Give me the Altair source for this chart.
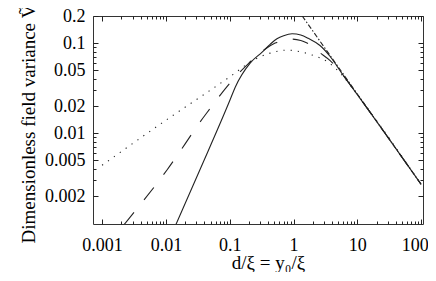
import altair as alt
import pandas as pd

# ---- data ----
solid_x = [0.0142, 0.034, 0.101, 0.122, 0.209, 0.322, 0.43, 0.55, 0.7, 0.95, 1.3, 1.7, 2.6, 3.75, 6, 10, 100]
solid_y = [0.00095, 0.0039, 0.0233, 0.0324, 0.060, 0.0794, 0.097, 0.112, 0.121, 0.127, 0.123, 0.113, 0.094, 0.071, 0.044, 0.0268, 0.0027]

dashed_x = [0.0022, 0.0104, 0.041, 0.122, 0.2, 0.27, 0.515, 0.88, 1.3, 1.63, 2.6, 3.75, 5, 6, 10, 100]
dashed_y = [0.00096, 0.0039, 0.0158, 0.042, 0.060, 0.073, 0.100, 0.111, 0.107, 0.100, 0.078, 0.064, 0.052, 0.044, 0.0268, 0.0027]

dotted_x = [0.001, 0.013, 0.038, 0.109, 0.209, 0.43, 0.79, 1.14, 1.96, 3.48, 5.78, 10, 100]
dotted_y = [0.0044, 0.0158, 0.0264, 0.044, 0.0615, 0.0774, 0.0836, 0.0815, 0.0736, 0.0615, 0.044, 0.0268, 0.0027]

asym_x = [1.37, 100]
asym_y = [0.2, 0.0027]

x_major = [0.001, 0.01, 0.1, 1, 10, 100]
x_minor = [m * d for d in [0.001, 0.01, 0.1, 1, 10] for m in range(2, 10)]
y_labeled = [0.002, 0.005, 0.01, 0.02, 0.05, 0.1, 0.2]
y_minor = [0.003, 0.004, 0.006, 0.007, 0.008, 0.009, 0.03, 0.04, 0.06, 0.07, 0.08, 0.09]

W, H = 330, 208
FONT = "Liberation Serif"
INK = "#222"

xs = alt.Scale(type="log", domain=[0.00072, 107], nice=False)
ys = alt.Scale(type="log", domain=[0.00098, 0.2], nice=False)

def df(xv, yv):
    return pd.DataFrame({"x": xv, "y": yv})

def line(d, dash=None, axes=False):
    kw = dict(clip=True, color=INK, strokeWidth=1.1, interpolate="monotone")
    if dash:
        kw["strokeDash"] = dash
    if axes:
        xa = alt.Axis(orient="bottom", values=x_major, format="~g", ticks=False, tickSize=0,
                      domain=False, labelPadding=26, labelBaseline="alphabetic",
                      labelFont=FONT, labelFontSize=18, labelColor="black",
                      labelFlush=4, labelFlushOffset=7, labelOverlap=False,
                      title="d/ξ = y₀/ξ", titleFont=FONT, titleFontSize=19, titleFontWeight="normal",
                      titleColor="black", titleX=175, titleY=44, titleAlign="center",
                      titleBaseline="alphabetic", grid=False)
        ya = alt.Axis(orient="left", values=y_labeled, format="~g", ticks=False, tickSize=0,
                      domain=False, labelPadding=8,
                      labelFont=FONT, labelFontSize=18, labelColor="black",
                      labelFlush=False, labelOverlap=False,
                      title="Dimensionless field variance Ṽ", titleFont=FONT, titleFontSize=19,
                      titleFontWeight="normal", titleColor="black", titleAngle=270,
                      titleX=-59, titleY=227, titleAlign="left", titleBaseline="alphabetic",
                      grid=False)
    else:
        xa = None
        ya = None
    return alt.Chart(d).mark_line(**kw).encode(
        x=alt.X("x:Q", scale=xs, axis=xa),
        y=alt.Y("y:Q", scale=ys, axis=ya),
    )

def tick_layer(xorient, yorient, xvals, yvals, size):
    xa = alt.Axis(orient=xorient, offset=-H, values=xvals, labels=False, domain=False,
                  ticks=True, tickSize=size, tickColor=INK, tickWidth=1, title=None, grid=False)
    ya = alt.Axis(orient=yorient, offset=-W, values=yvals, labels=False, domain=False,
                  ticks=True, tickSize=size, tickColor=INK, tickWidth=1, title=None, grid=False)
    return alt.Chart(df(solid_x, solid_y)).mark_point(opacity=0).encode(
        x=alt.X("x:Q", scale=xs, axis=xa),
        y=alt.Y("y:Q", scale=ys, axis=ya),
    )

layers = [
    line(df(solid_x, solid_y), axes=True),
    line(df(dashed_x, dashed_y), dash=[16, 16]),
    line(df(dotted_x, dotted_y), dash=[1.2, 6]),
    line(df(asym_x, asym_y), dash=[5, 2, 1.5, 2]),
    tick_layer("top", "right", x_major, y_labeled, 5),
    tick_layer("bottom", "left", x_major, y_labeled, 5),
    tick_layer("top", "right", x_minor, y_minor, 3),
    tick_layer("bottom", "left", x_minor, y_minor, 3),
]

chart = alt.layer(*layers).resolve_axis(x="independent", y="independent").properties(
    width=W, height=H,
    padding={"left": 85, "top": 8, "right": 5, "bottom": 48},
    autosize=alt.AutoSizeParams(type="none"),
).configure_view(stroke="#333", strokeWidth=1)

chart.save("out.html", embed_options={"renderer": "svg", "actions": False})
